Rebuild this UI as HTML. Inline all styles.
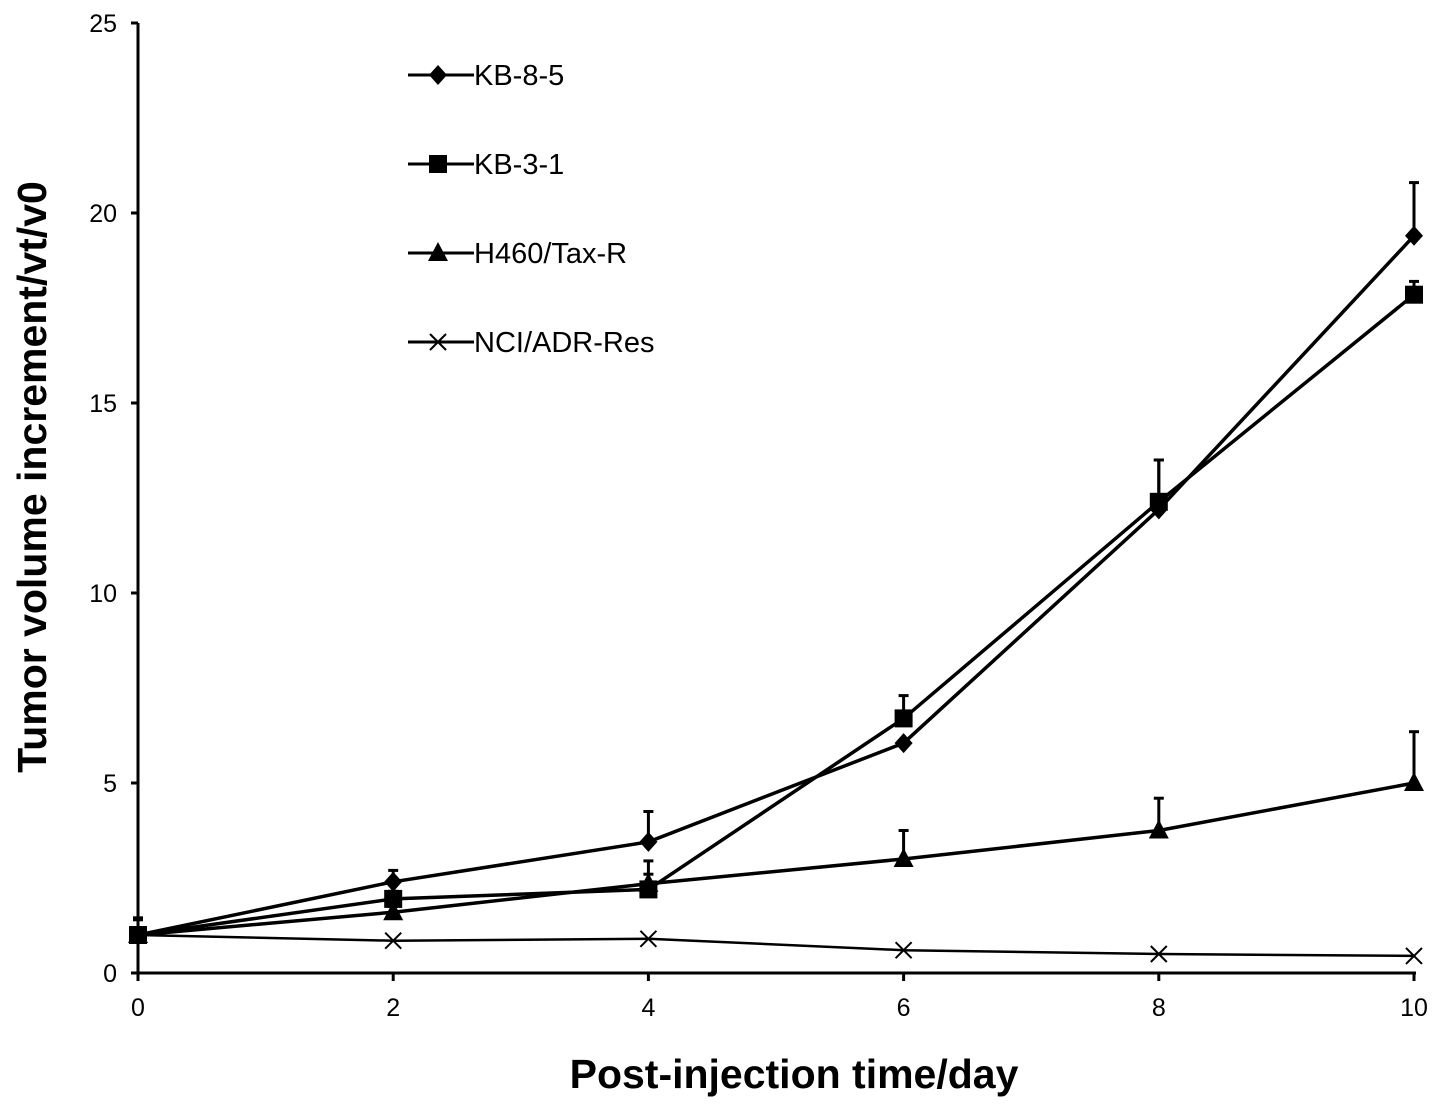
<!DOCTYPE html>
<html><head><meta charset="utf-8"><style>
body{margin:0;background:#fff}
svg{display:block;font-family:"Liberation Sans",sans-serif}
</style></head><body>
<svg id="chart" width="1441" height="1108" viewBox="0 0 1441 1108"></svg>
<script>
const days=[0,2,4,6,8,10];
const seriesNames=["KB-8-5","KB-3-1","H460/Tax-R","NCI/ADR-Res"];
const kb85=[1,2.4,3.45,6.05,12.2,19.4];
const kb85Err=[0.45,0.3,0.8,0,1.3,1.4];
const kb31=[1,1.95,2.2,6.7,12.4,17.85];
const kb31Err=[0.45,0.2,0.4,0.6,1.1,0.35];
const h460=[1,1.6,2.35,3.0,3.75,5.0];
const h460Err=[0.4,0.15,0.6,0.75,0.85,1.35];
const nci=[1,0.85,0.9,0.6,0.5,0.45];
const nciErr=[0,0,0,0,0,0];
const xTicks=[0,2,4,6,8,10];
const yTicks=[0,5,10,15,20,25];

const NS="http://www.w3.org/2000/svg";
const svg=document.getElementById('chart');
const X=v=>138+v*127.6;
const Y=v=>973-v*38;
function mk(tag,attrs,parent){const e=document.createElementNS(NS,tag);for(const k in attrs)e.setAttribute(k,attrs[k]);(parent||svg).appendChild(e);return e;}

let a=mk('line',{x1:138,y1:Y(25),x2:138,y2:975,stroke:'#000','stroke-width':3});


a=mk('line',{x1:136,y1:973,x2:1416,y2:973,stroke:'#000','stroke-width':3});


yTicks.forEach(t=>{
  const l=mk('line',{x1:131,y1:Y(t),x2:138,y2:Y(t),stroke:'#000','stroke-width':3});
  
  
  const tx=mk('text',{x:117,y:Y(t)+9,'text-anchor':'end','font-size':25});
  tx.textContent=t;
  
  
});
xTicks.forEach(t=>{
  const l=mk('line',{x1:X(t),y1:973,x2:X(t),y2:981,stroke:'#000','stroke-width':3});
  
  
  const tx=mk('text',{x:X(t),y:1016,'text-anchor':'middle','font-size':25});
  tx.textContent=t;
  
  
});
let t=mk('text',{x:794,y:1088,'text-anchor':'middle','font-size':41,'font-weight':'bold'});
t.textContent='Post-injection time/day';


t=mk('text',{x:0,y:0,'text-anchor':'middle','font-size':41,'font-weight':'bold',transform:'translate(46,477) rotate(-90)'});
t.textContent='Tumor volume increment/vt/v0';



function marker(type,x,y,g){
  if(type==='diamond')mk('polygon',{points:`${x},${y-10} ${x+9},${y} ${x},${y+10} ${x-9},${y}`,fill:'#000'},g);
  else if(type==='square')mk('rect',{x:x-9,y:y-9,width:18,height:18,fill:'#000'},g);
  else if(type==='triangle')mk('polygon',{points:`${x},${y-11} ${x+10},${y+8} ${x-10},${y+8}`,fill:'#000'},g);
  else {mk('line',{x1:x-8,y1:y-8,x2:x+8,y2:y+8,stroke:'#000','stroke-width':2},g);mk('line',{x1:x-8,y1:y+8,x2:x+8,y2:y-8,stroke:'#000','stroke-width':2},g);}
}
const all=[[kb85,kb85Err,'diamond','series-kb-8-5'],[kb31,kb31Err,'square','series-kb-3-1'],[h460,h460Err,'triangle','series-h460-tax-r'],[nci,nciErr,'cross','series-nci-adr-res']];
all.forEach(([vals,errs,m,name],si)=>{
  const g=mk('g',{});
  
  
  errs.forEach((e,i)=>{if(e>0){
    mk('line',{x1:X(days[i]),y1:Y(vals[i]),x2:X(days[i]),y2:Y(vals[i]+e),stroke:'#000','stroke-width':3},g);
    mk('line',{x1:X(days[i])-5,y1:Y(vals[i]+e),x2:X(days[i])+5,y2:Y(vals[i]+e),stroke:'#000','stroke-width':3},g);
  }});
  mk('polyline',{points:vals.map((v,i)=>X(days[i])+','+Y(v)).join(' '),fill:'none',stroke:'#000','stroke-width':m==='cross'?2.5:3.5},g);
  vals.forEach((v,i)=>marker(m,X(days[i]),Y(v),g));
  const ly=75+si*89;
  const lg=mk('g',{});
  
  
  mk('line',{x1:408,y1:ly,x2:474,y2:ly,stroke:'#000','stroke-width':3},lg);
  marker(m,438,ly,lg);
  const lt=mk('text',{x:474,y:ly+10,'font-size':29},lg);
  lt.textContent=seriesNames[si];
});
</script>
</body></html>
